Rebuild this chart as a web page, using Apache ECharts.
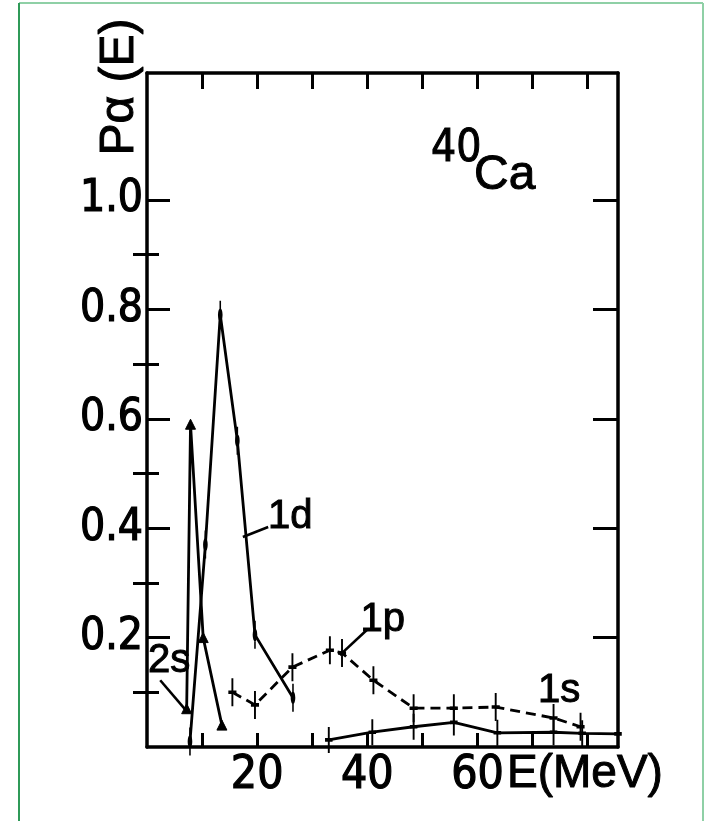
<!DOCTYPE html>
<html>
<head>
<meta charset="utf-8">
<script src="https://cdn.jsdelivr.net/npm/echarts@6/dist/echarts.min.js"></script>
<style>
html,body{margin:0;padding:0;background:#fff}
#c{width:704px;height:821px}
</style>
</head>
<body>
<div id="c"></div>
<script>
// ---- data (E in MeV, P_alpha(E)) ----
const e2s = [7.2, 7.9, 10.2, 13.6];
const p2s = [0.07, 0.59, 0.20, 0.04];

const e1d = [7.8, 10.6, 13.3, 16.4, 19.6, 26.5];
const p1d = [0.01, 0.37, 0.79, 0.56, 0.205, 0.09];

const e1p = [15.5, 19.6, 26.4, 33.2, 35.4, 41.1, 48.4, 55.7, 63.3, 73.8, 78.7];
const p1p = [0.10, 0.077, 0.146, 0.177, 0.172, 0.122, 0.071, 0.071, 0.073, 0.053, 0.037];

const e1s = [33.0, 40.9, 48.4, 55.7, 63.6, 73.8, 79.0, 85.5];
const p1s = [0.013, 0.027, 0.037, 0.045, 0.026, 0.027, 0.025, 0.024];

const xTickValues = [10, 20, 30, 40, 50, 60, 70, 80];
const xLabelValues = [20, 40, 60];
const yMajorValues = [0.2, 0.4, 0.6, 0.8, 1.0];
const yMinorValues = [0.1, 0.3, 0.5, 0.7, 0.9];

const curveLabels = ['2s', '1d', '1p', '1s'];
const curveLabelE = [4.0, 26.0, 42.8, 74.8];
const curveLabelP = [0.157, 0.42, 0.232, 0.102];

const leader2sE = [2.4, 7.0];
const leader2sP = [0.122, 0.068];
const leader1dE = [17.4, 22.0];
const leader1dP = [0.384, 0.402];
const leader1pE = [35.0, 39.9];
const leader1pP = [0.168, 0.214];

const X_MIN = 0, X_MAX = 85.5, Y_MIN = 0, Y_MAX = 1.232;

// ---- helpers ----
const pair = (xs, ys) => xs.map((x, i) => [x, ys[i]]);
const NUM_FONT = "'Liberation Sans Narrow','DejaVu Sans Condensed','Liberation Sans',sans-serif";
const TXT_FONT = "'Liberation Sans','DejaVu Sans',sans-serif";
const INK = '#000';

const circleBar = 'path://M5,0L5,26M1,13A4,4 0 1,1 9,13A4,4 0 1,1 1,13';
const crossBar = 'path://M7,0L7,26M0,13L14,13';

function curve(name, xs, ys, opts) {
  return Object.assign({
    name: name,
    type: 'line',
    xAxisIndex: 0, yAxisIndex: 0,
    data: pair(xs, ys),
    showAllSymbol: true,
    symbolKeepAspect: true,
    lineStyle: {color: INK, width: 2.8},
    itemStyle: {color: '#fff', borderColor: INK, borderWidth: 2.6},
    animation: false,
    silent: true,
    z: 3
  }, opts);
}
function leader(xs, ys) {
  return {
    type: 'line', data: pair(xs, ys), symbol: 'none',
    lineStyle: {color: INK, width: 2.6}, animation: false, silent: true, z: 3
  };
}

const xAxisBase = {
  type: 'value', min: X_MIN, max: X_MAX, interval: 10,
  axisLine: {show: true, onZero: false, lineStyle: {color: INK, width: 3.5}},
  splitLine: {show: false}
};
const yAxisBase = {
  type: 'value', min: Y_MIN, max: Y_MAX,
  splitLine: {show: false}
};

const option = {
  backgroundColor: '#fff',
  animation: false,
  grid: {left: 147, right: 86, top: 73, bottom: 74},
  xAxis: [
    Object.assign({}, xAxisBase, {
      position: 'bottom',
      axisTick: {show: true, inside: true, length: 14, customValues: xTickValues,
                 lineStyle: {color: INK, width: 3}},
      axisLabel: {show: true, customValues: xLabelValues,
                  formatter: v => (xLabelValues.indexOf(v) >= 0 ? String(v) : ''),
                  color: INK, fontSize: 46, fontFamily: NUM_FONT, margin: 6,
                  textBorderColor: INK, textBorderWidth: 1.2}
    }),
    Object.assign({}, xAxisBase, {
      position: 'top',
      axisTick: {show: true, inside: true, length: 16, customValues: xTickValues,
                 lineStyle: {color: INK, width: 3}},
      axisLabel: {show: false}
    })
  ],
  yAxis: [
    Object.assign({}, yAxisBase, {
      position: 'left', interval: 0.2,
      axisLine: {show: true, onZero: false, lineStyle: {color: INK, width: 3.5}},
      axisTick: {show: true, inside: true, length: 23, customValues: yMajorValues,
                 lineStyle: {color: INK, width: 3}},
      axisLabel: {show: true, customValues: yMajorValues,
                  formatter: v => v.toFixed(1),
                  color: INK, fontSize: 44, fontFamily: NUM_FONT, margin: 4,
                  padding: [0, 0, 10, 0],
                  textBorderColor: INK, textBorderWidth: 1.2}
    }),
    Object.assign({}, yAxisBase, {
      position: 'left', interval: 0.1,
      axisLine: {show: false},
      axisTick: {show: true, inside: true, length: 12, customValues: yMinorValues,
                 lineStyle: {color: INK, width: 3}},
      axisLabel: {show: false}
    }),
    Object.assign({}, yAxisBase, {
      position: 'right', interval: 0.2,
      axisLine: {show: true, onZero: false, lineStyle: {color: INK, width: 3.5}},
      axisTick: {show: true, inside: true, length: 25, customValues: yMajorValues,
                 lineStyle: {color: INK, width: 3}},
      axisLabel: {show: false}
    }),
    Object.assign({}, yAxisBase, {
      position: 'right', interval: 0.1,
      axisLine: {show: false},
      axisTick: {show: true, inside: true, length: 14, customValues: yMinorValues,
                 lineStyle: {color: INK, width: 3}},
      axisLabel: {show: false}
    })
  ],
  series: [
    curve('2s', e2s, p2s, {symbol: 'triangle', symbolSize: 10,
      itemStyle: {color: INK, borderColor: INK, borderWidth: 1}}),
    curve('1d', e1d, p1d, {symbol: circleBar, symbolSize: [10, 28]}),
    curve('1p', e1p, p1p, {symbol: crossBar, symbolSize: [15, 28],
      lineStyle: {color: INK, width: 2.8, type: [10, 6]}}),
    curve('1s', e1s, p1s, {symbol: crossBar, symbolSize: [14, 26]}),
    leader(leader2sE, leader2sP),
    leader(leader1dE, leader1dP),
    leader(leader1pE, leader1pP),
    {
      type: 'scatter', silent: true, animation: false, z: 5,
      symbolSize: 1, itemStyle: {color: 'transparent', opacity: 1},
      data: curveLabels.map((t, i) => ({name: t, value: [curveLabelE[i], curveLabelP[i]]})),
      label: {show: true, position: 'inside', formatter: p => p.name, opacity: 1,
              color: INK, fontSize: 40, fontFamily: TXT_FONT,
              textBorderColor: INK, textBorderWidth: 1}
    }
  ],
  graphic: [
    {type: 'line', shape: {x1: 19, y1: 3, x2: 703, y2: 3}, style: {stroke: '#8fd0a6', lineWidth: 2}, silent: true},
    {type: 'line', shape: {x1: 19, y1: 3, x2: 19, y2: 821}, style: {stroke: '#2f9a58', lineWidth: 2}, silent: true},
    {type: 'line', shape: {x1: 703, y1: 3, x2: 703, y2: 821}, style: {stroke: '#8fd0a6', lineWidth: 2}, silent: true},
    {type: 'text', x: 120, y: 87, rotation: Math.PI / 2, silent: true,
     style: {text: 'Pα (E)', fill: INK, font: "48px " + TXT_FONT, textAlign: 'center', textVerticalAlign: 'middle',
             stroke: INK, lineWidth: 1}},
    {type: 'text', x: 431, y: 150, silent: true,
     style: {text: '40', fill: INK, font: "44px " + NUM_FONT, textAlign: 'left', textVerticalAlign: 'middle',
             stroke: INK, lineWidth: 1}},
    {type: 'text', x: 474, y: 176, silent: true,
     style: {text: 'Ca', fill: INK, font: "48px " + TXT_FONT, textAlign: 'left', textVerticalAlign: 'middle',
             stroke: INK, lineWidth: 1}},
    {type: 'text', x: 507, y: 774, silent: true,
     style: {text: 'E(MeV)', fill: INK, font: "46px " + TXT_FONT, textAlign: 'left', textVerticalAlign: 'middle',
             stroke: INK, lineWidth: 1}}
  ]
};

const chart = echarts.init(document.getElementById('c'), null, {renderer: 'canvas'});
chart.setOption(option);
</script>
</body>
</html>
